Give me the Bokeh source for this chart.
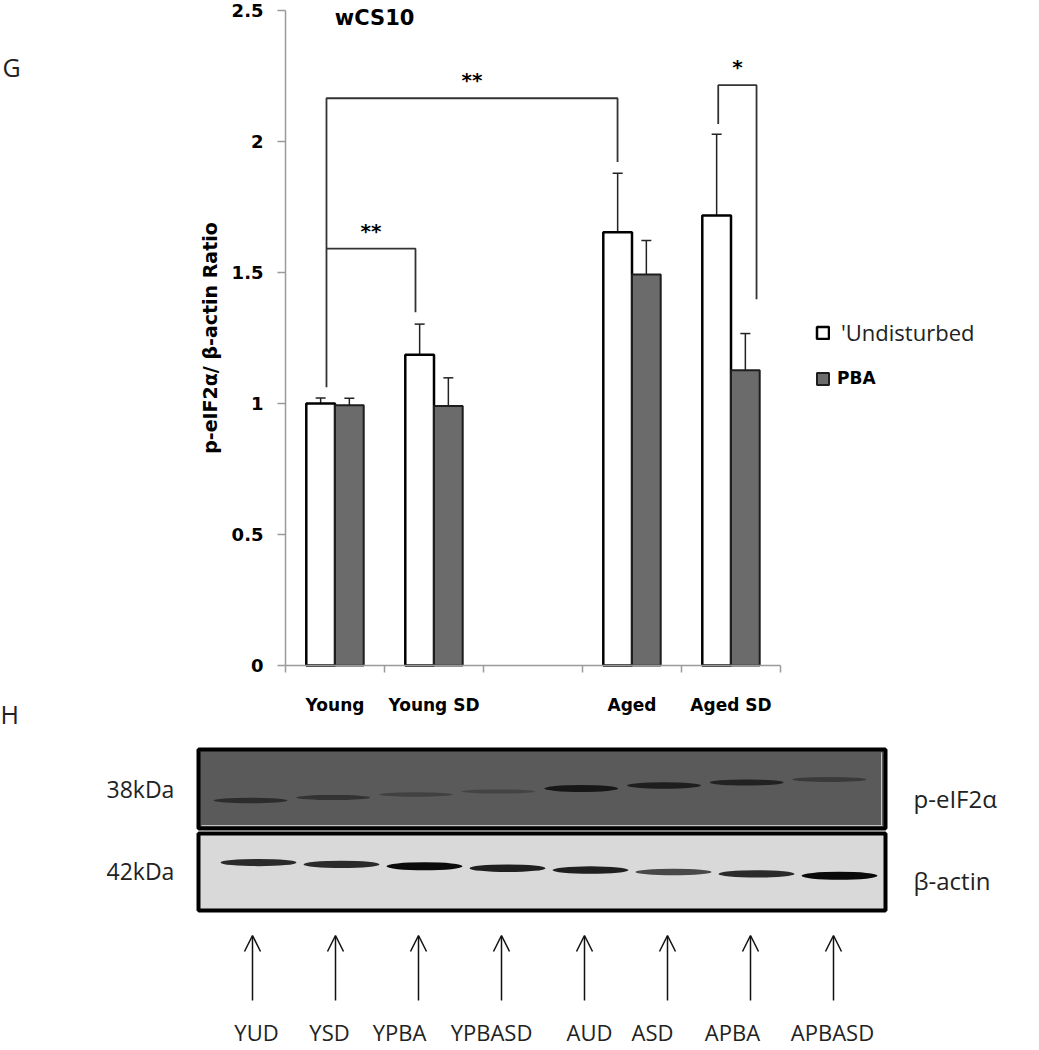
from bokeh.plotting import figure
from bokeh.models import (Range1d, FixedTicker, Legend, LegendItem, Label, Whisker, TeeHead,
                          ColumnDataSource, Arrow, OpenHead, LinearAxis)
from bokeh.embed import file_html
from bokeh.resources import INLINE
from bokeh.core.properties import value

# ---------------- data: panel G ----------------
groups = ["Young", "Young SD", "", "Aged", "Aged SD"]
undisturbed = [1.00, 1.186, None, 1.654, 1.718]
undisturbed_err = [0.021, 0.117, None, 0.225, 0.31]
pba = [0.993, 0.99, None, 1.492, 1.127]
pba_err = [0.027, 0.108, None, 0.13, 0.14]
series_names = ["'Undisturbed", "PBA"]
y_ticks = [0, 0.5, 1, 1.5, 2, 2.5]
chart_title = "wCS10"
y_title = "p-eIF2α/ β-actin Ratio"

# significance brackets
sig_marks = ["**", "**", "*"]
sig_top = [2.165, 1.591, 2.215]
sig_left_end = [1.062, 1.591, 2.067]
sig_right_end = [1.922, 1.348, 1.398]

# ---------------- data: panel H ----------------
lanes = ["YUD", "YSD", "YPBA", "YPBASD", "AUD", "ASD", "APBA", "APBASD"]
peif2a_band = [0.65, 0.55, 0.35, 0.3, 0.95, 0.85, 0.8, 0.45]
actin_band = [0.85, 0.85, 1.0, 0.9, 0.9, 0.7, 0.85, 1.0]
blot_rows = ["p-eIF2α", "β-actin"]
blot_sizes = ["38kDa", "42kDa"]

# ---------------- layout / style ----------------
W, H = 1039, 1050
BOLD = "DejaVu Sans"
SANS = "Open Sans"
AX_GREY = "#9a9a9a"
X0_PX, PX_PER_CAT = 285.0, 99.0      # chart x origin on page, px per category
Y0_PX, PX_PER_UNIT = 665.0, 262.0    # chart y origin on page, px per unit
BW = 0.29

p = figure(width=W, height=H,
           x_range=Range1d(-X0_PX / PX_PER_CAT, (W - X0_PX) / PX_PER_CAT),
           y_range=Range1d(-(H - Y0_PX) / PX_PER_UNIT, Y0_PX / PX_PER_UNIT),
           x_axis_location=None, y_axis_location=None, min_border=0,
           toolbar_location=None, output_backend="svg", tools="")
p.extra_x_ranges = {"px": Range1d(0, W)}
p.extra_y_ranges = {"px": Range1d(H, 0)}
p.grid.visible = False
p.outline_line_color = None
p.background_fill_color = "white"

idx = [i for i, v in enumerate(undisturbed) if v is not None]
cx = [i + 0.5 for i in idx]
src = ColumnDataSource(dict(
    xw=[c - BW / 2 for c in cx],
    xg=[c + BW / 2 for c in cx],
    und=[undisturbed[i] for i in idx],
    pb=[pba[i] for i in idx],
    und_lo=[undisturbed[i] - undisturbed_err[i] for i in idx],
    und_hi=[undisturbed[i] + undisturbed_err[i] for i in idx],
    pb_lo=[pba[i] - pba_err[i] for i in idx],
    pb_hi=[pba[i] + pba_err[i] for i in idx],
))
rw = p.vbar(x="xw", top="und", bottom=0, width=BW, source=src,
            fill_color="white", line_color="black", line_width=2.5)
rg = p.vbar(x="xg", top="pb", bottom=0, width=BW, source=src,
            fill_color="#6b6b6b", line_color="#1e1e1e", line_width=2)

for base, lo, hi in [("xw", "und_lo", "und_hi"), ("xg", "pb_lo", "pb_hi")]:
    p.add_layout(Whisker(source=src, base=base, lower=lo, upper=hi,
                         line_color="#222222", line_width=1.5,
                         upper_head=TeeHead(size=10, line_color="#222222", line_width=1.5),
                         lower_head=TeeHead(size=10, line_color="#222222", line_width=1.5)))

# bracket anchors (group index, offset from group centre)
sig_anchor = [((0, -0.086), (3, -0.146)),
              ((0, -0.086), (1, -0.187)),
              ((4, -0.129), (4, 0.258))]
bxs, bys, sx, sy = [], [], [], []
for (la, ra), top, le, re in zip(sig_anchor, sig_top, sig_left_end, sig_right_end):
    xl = la[0] + 0.5 + la[1]
    xr = ra[0] + 0.5 + ra[1]
    bxs.append([xl, xl, xr, xr])
    bys.append([le, top, top, re])
    sx.append((xl + xr) / 2)
    sy.append(top + 0.068)
p.multi_line(xs=bxs, ys=bys, line_color="#333333", line_width=1.8)
p.text(x=sx, y=sy, text=sig_marks, text_align="center", text_baseline="middle",
       text_font=value(BOLD), text_font_style="bold", text_font_size="20px", text_color="black")

# axes fixed at the chart origin
xa = LinearAxis(fixed_location=0)
xa.ticker = FixedTicker(ticks=[i + 0.5 for i in range(len(groups))],
                        minor_ticks=list(range(len(groups) + 1)))
xa.major_label_overrides = {i + 0.5: (g if g else " ") for i, g in enumerate(groups)}
xa.bounds = (0, len(groups))
xa.major_tick_line_color = None
xa.major_tick_out = 0
xa.major_tick_in = 0
xa.minor_tick_in = 0
xa.minor_tick_out = 7
xa.minor_tick_line_color = AX_GREY
xa.minor_tick_line_width = 1.5
xa.axis_line_color = AX_GREY
xa.axis_line_width = 1.5
xa.major_label_text_font = BOLD
xa.major_label_text_font_style = "bold"
xa.major_label_text_font_size = "17px"
xa.major_label_text_color = "black"
xa.major_label_standoff = 22
p.add_layout(xa, "below")

ya = LinearAxis(fixed_location=0)
ya.ticker = FixedTicker(ticks=y_ticks, minor_ticks=[])
ya.bounds = (0, 2.5)
ya.major_label_overrides = {t: f"{t:g}" for t in y_ticks}
ya.major_tick_out = 8
ya.major_tick_in = 0
ya.major_tick_line_color = AX_GREY
ya.major_tick_line_width = 1.5
ya.axis_line_color = AX_GREY
ya.axis_line_width = 1.5
ya.major_label_text_font = BOLD
ya.major_label_text_font_style = "bold"
ya.major_label_text_font_size = "18px"
ya.major_label_text_color = "black"
ya.major_label_standoff = 14
ya.axis_label = y_title
ya.axis_label_text_font = BOLD
ya.axis_label_text_font_style = "bold"
ya.axis_label_text_font_size = "19px"
ya.axis_label_text_color = "black"
ya.axis_label_standoff = 8
p.add_layout(ya, "left")

# legends (two, so each label keeps its own style); location = px from bottom-left
leg1 = Legend(items=[LegendItem(label=series_names[0], renderers=[rw])], location=(815, H - 347),
              label_text_font=SANS, label_text_font_size="22px", label_text_color="#222222",
              label_standoff=11)
leg2 = Legend(items=[LegendItem(label=series_names[1], renderers=[rg])], location=(815, H - 388),
              label_text_font=BOLD, label_text_font_style="bold", label_text_font_size="17px",
              label_text_color="black", label_standoff=7)
for lg in (leg1, leg2):
    lg.glyph_width = 15
    lg.glyph_height = 15
    lg.label_height = 15
    lg.padding = 0
    lg.margin = 0
    lg.spacing = 0
    lg.border_line_alpha = 0
    lg.background_fill_alpha = 0
    p.add_layout(lg)

p.add_layout(Label(x=0.9, y=2.47, text=chart_title, text_align="center", text_baseline="middle",
                   text_font=BOLD, text_font_style="bold", text_font_size="21px", text_color="black"))

PX = dict(x_range_name="px", y_range_name="px")
p.text(x=[2, 0], y=[66, 713], text=["G", "H"], text_align="left", text_baseline="middle",
       text_font=value(SANS), text_font_size="25px", text_color="#222222", **PX)

# ---------------- panel H: blot illustration (page-pixel coordinates) ----------------
BL, BR = 198, 885
p.quad(left=[BL, BL], right=[BR, BR], top=[749, 833], bottom=[828, 910],
       fill_color=["#5a5a5a", "#d9d9d9"], line_color="black", line_width=4, **PX)
p.segment(x0=[BL + 3, BR - 4], y0=[825, 752], x1=[BR - 3, BR - 4], y1=[825, 825],
          line_color="#c4c4c4", line_width=1, **PX)

n = len(lanes)
up_x = [250 + 82.7 * i for i in range(n)]
up_y = [800 - 3.0 * i for i in range(n)]
lo_x = [258 + 83.0 * i for i in range(n)]
lo_y = [862 + 1.9 * i for i in range(n)]
p.ellipse(x=up_x, y=up_y, width=74, height=[3 + 4 * v for v in peif2a_band],
          fill_color="#141414", fill_alpha=peif2a_band, line_color=None, **PX)
p.ellipse(x=lo_x, y=lo_y, width=76, height=[3 + 5 * v for v in actin_band],
          fill_color="#0a0a0a", fill_alpha=actin_band, line_color=None, **PX)

p.text(x=[106, 106], y=[788, 870], text=blot_sizes, text_align="left", text_baseline="middle",
       text_font=value(SANS), text_font_size="23px", text_color="#222222", **PX)
p.text(x=[913, 913], y=[798, 880], text=blot_rows, text_align="left", text_baseline="middle",
       text_font=value(SANS), text_font_size="24px", text_color="#222222", **PX)

arrow_x = [x - 6 for x in lo_x]
asrc = ColumnDataSource(dict(x0=arrow_x, y0=[1000] * n, x1=arrow_x, y1=[935] * n))
p.add_layout(Arrow(end=OpenHead(size=16, line_width=1.5, line_color="#111111"),
                   x_start="x0", y_start="y0", x_end="x1", y_end="y1", source=asrc,
                   line_width=1.5, line_color="#111111", **PX))
label_shift = [4, -6, -19, -10, 5, -15, -18, -1]
p.text(x=[a + s for a, s in zip(arrow_x, label_shift)], y=[1031] * n, text=lanes,
       text_align="center", text_baseline="middle",
       text_font=value(SANS), text_font_size="22px", text_color="#222222", **PX)

open("out.html", "w").write(file_html(p, INLINE))
